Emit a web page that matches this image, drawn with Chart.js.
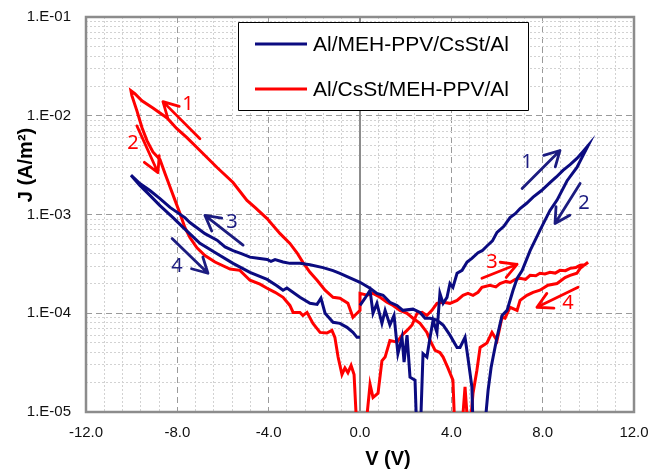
<!DOCTYPE html>
<html>
<head>
<meta charset="utf-8">
<script src="https://cdn.jsdelivr.net/npm/chart.js@4.4.0/dist/chart.umd.min.js"></script>
<style>
  html, body { margin: 0; padding: 0; background: #fff; }
  #wrap { width: 649px; height: 470px; }
</style>
</head>
<body>
<div id="wrap"><canvas id="chart" width="649" height="470"></canvas></div>
<script>
// --- data: [V (V), J (A/m2)] ---
// Al/MEH-PPV/CsSt/Al, sweeps in measuring order
const blueSweep1 = [ // 0 -> +10 V
  [0.00,1.2e-4],[0.22,1.42e-4],[0.44,1.71e-4],[0.57,1.0e-4],[0.74,1.26e-4],[0.96,7.9e-5],[1.10,1.07e-4],
  [1.31,7.6e-5],[1.49,9.5e-5],[1.66,3.9e-5],[1.84,5.7e-5],[1.93,3.2e-5],[2.06,6.0e-5],[2.19,2.25e-5],
  [2.41,2.1e-5],[2.50,5e-6],[2.63,5e-6],[2.76,3.9e-5],[2.93,3.6e-5],[3.07,5.7e-5],[3.20,8.5e-5],
  [3.37,6.4e-5],[3.50,1.59e-4],[3.64,1.26e-4],[3.81,1.45e-4],[3.94,2.0e-4],[4.07,1.83e-4],[4.25,2.54e-4],
  [4.47,2.72e-4],[4.69,3.3e-4],[4.90,3.6e-4],[5.17,4.1e-4],[5.35,4.3e-4],[5.56,4.8e-4],[5.80,5.4e-4],
  [6.00,6.6e-4],[6.30,7.6e-4],[6.57,9.3e-4],[6.80,1.02e-3],[7.01,1.15e-3],[7.30,1.3e-3],[7.58,1.5e-3],
  [7.95,1.75e-3],[8.32,2.1e-3],[8.60,2.4e-3],[8.89,2.8e-3],[9.20,3.2e-3],[9.50,3.7e-3],[9.75,4.3e-3],
  [9.99,5.0e-3]
];
const blueSweep2 = [ // +10 -> 0 V
  [9.50,3.0e-3],[9.07,2.2e-3],[8.63,1.4e-3],[8.32,1.1e-3],[7.88,6.9e-4],[7.45,4.3e-4],[7.10,2.7e-4],
  [6.88,2.25e-4],[6.70,1.7e-4],[6.44,1.07e-4],[6.22,9.5e-5],[6.00,5.7e-5],[5.83,3.6e-5],[5.74,2.8e-5],
  [5.61,1.66e-5],[5.52,9.8e-6],[5.43,5e-6],[4.97,5e-6],[4.90,1.8e-5],[4.73,3.5e-5],[4.60,5.7e-5],
  [4.38,4.5e-5],[4.25,4.5e-5],[3.94,6.0e-5],[3.64,7.6e-5],[3.37,8.5e-5],[3.07,8.9e-5],[2.85,8.9e-5],
  [2.63,1.02e-4],[2.32,1.1e-4],[1.88,1.07e-4],[1.62,1.2e-4],[1.31,1.29e-4],[1.01,1.52e-4],[0.74,1.59e-4],
  [0.44,1.79e-4],[0.00,2.06e-4]
];
const blueSweep3 = [ // 0 -> -10 V
  [-0.88,2.54e-4],[-1.18,2.7e-4],[-1.62,2.9e-4],[-2.19,3.1e-4],[-2.63,3.2e-4],[-3.07,3.2e-4],
  [-3.37,3.3e-4],[-3.72,3.5e-4],[-3.90,3.35e-4],[-4.07,3.5e-4],[-4.47,3.6e-4],[-4.82,3.7e-4],
  [-5.17,4.0e-4],[-5.56,4.3e-4],[-5.91,4.7e-4],[-6.26,5.5e-4],[-6.79,6.4e-4],[-7.45,8.3e-4],
  [-7.67,9.3e-4],[-8.32,1.18e-3],[-8.76,1.45e-3],[-9.20,1.75e-3],[-9.64,2.06e-3],[-10.03,2.5e-3]
];
const blueSweep4 = [ // -10 -> 0 V
  [-9.64,1.97e-3],[-9.20,1.56e-3],[-8.76,1.23e-3],[-8.19,9.3e-4],[-7.75,7.4e-4],[-7.01,5.1e-4],
  [-6.26,4.0e-4],[-5.56,3.2e-4],[-4.82,2.6e-4],[-4.07,2.2e-4],[-3.64,1.9e-4],[-3.37,1.71e-4],
  [-3.20,1.8e-4],[-2.63,1.45e-4],[-2.19,1.26e-4],[-1.88,1.23e-4],[-1.71,1.42e-4],[-1.53,1.0e-4],
  [-1.18,8.1e-5],[-0.88,7.9e-5],[-0.57,7.2e-5],[-0.31,6.4e-5],[-0.13,5.7e-5],[0.00,5.7e-5]
];

// Al/CsSt/MEH-PPV/Al
const redSweep3 = [ // 0 -> +10 V
  [0.15,4e-6],[0.44,1.9e-5],[0.57,1.4e-5],[0.79,1.55e-5],[0.96,3.3e-5],[1.10,3.6e-5],[1.31,5.3e-5],
  [1.62,5.1e-5],[1.84,6.0e-5],[2.06,6.7e-5],[2.28,7.6e-5],[2.50,1.0e-4],[2.72,1.02e-4],[2.93,9.5e-5],
  [3.15,1.07e-4],[3.37,1.26e-4],[3.64,1.29e-4],[3.94,1.26e-4],[4.25,1.35e-4],[4.51,1.52e-4],
  [4.73,1.59e-4],[4.95,1.52e-4],[5.17,1.63e-4],[5.34,1.83e-4],[5.69,1.92e-4],[5.95,1.85e-4],
  [6.13,2.0e-4],[6.40,2.1e-4],[6.57,2.05e-4],[6.80,2.2e-4],[7.01,2.26e-4],[7.25,2.2e-4],[7.45,2.42e-4],
  [7.70,2.4e-4],[7.88,2.54e-4],[8.10,2.5e-4],[8.32,2.6e-4],[8.55,2.55e-4],[8.76,2.72e-4],[9.00,2.7e-4],
  [9.20,2.85e-4],[9.45,2.9e-4],[9.64,3.06e-4],[9.85,3.1e-4],[9.99,3.28e-4]
];
const redSweep4 = [ // +10 -> 0 V
  [9.64,2.85e-4],[9.50,2.54e-4],[9.20,2.42e-4],[8.98,2.3e-4],[8.63,2.0e-4],[8.23,1.92e-4],[7.88,1.71e-4],
  [7.58,1.63e-4],[7.31,1.52e-4],[7.01,1.35e-4],[6.88,1.07e-4],[6.57,1.15e-4],[6.35,8.9e-5],[6.22,9.1e-5],
  [6.00,5.3e-5],[5.78,6.4e-5],[5.56,5.0e-5],[5.26,4.5e-5],[5.12,2.65e-5],[4.95,1.55e-5],[4.77,5e-6],
  [4.60,1.8e-5],[4.42,5e-6],[4.16,6e-6],[4.07,2.1e-5],[3.85,2.8e-5],[3.64,3.6e-5],[3.50,4.0e-5],
  [3.29,4.2e-5],[3.07,5.3e-5],[2.93,6.4e-5],[2.63,7.9e-5],[2.32,8.9e-5],[2.06,1.0e-4],[1.75,1.07e-4],
  [1.45,1.2e-4],[1.18,1.29e-4],[0.88,1.45e-4],[0.57,1.59e-4],[0.31,1.52e-4],[0.00,1.59e-4]
];
const redSweep1 = [ // 0 -> -10 V
  [0.00,1.07e-4],[-0.13,1.0e-4],[-0.31,9.1e-5],[-0.53,1.26e-4],[-0.88,1.42e-4],[-1.18,1.45e-4],
  [-1.53,1.71e-4],[-1.88,2.16e-4],[-2.19,2.6e-4],[-2.50,3.28e-4],[-2.76,4.1e-4],[-3.07,5.1e-4],
  [-3.50,6.4e-4],[-4.07,9.1e-4],[-4.60,1.18e-3],[-4.95,1.39e-3],[-5.56,2.11e-3],[-6.26,2.99e-3],
  [-7.01,4.45e-3],[-7.58,6.0e-3],[-8.02,7.4e-3],[-8.45,9.5e-3],[-9.07,1.2e-2],[-9.55,1.42e-2],
  [-9.86,1.67e-2],[-10.03,1.79e-2]
];
const redSweep2 = [ // -10 -> 0 V
  [-9.99,1.6e-2],[-9.77,1.12e-2],[-9.55,7.6e-3],[-9.33,5.6e-3],[-9.07,4.3e-3],[-8.76,3.6e-3],
  [-8.54,2.6e-3],[-8.32,1.9e-3],[-8.10,1.39e-3],[-7.88,1.02e-3],[-7.67,7.4e-4],[-7.45,5.85e-4],
  [-7.14,4.6e-4],[-6.79,3.84e-4],[-6.35,3.3e-4],[-5.69,2.8e-4],[-5.26,2.72e-4],[-4.82,2.16e-4],
  [-4.38,1.97e-4],[-4.07,1.79e-4],[-3.72,1.63e-4],[-3.37,1.45e-4],[-3.07,1.2e-4],[-2.93,1.02e-4],
  [-2.63,1.02e-4],[-2.50,9.5e-5],[-2.32,1.02e-4],[-2.06,7.9e-5],[-1.75,6.4e-5],[-1.45,6.3e-5],
  [-1.23,6.7e-5],[-1.10,5.7e-5],[-0.96,3.6e-5],[-0.79,2.4e-5],[-0.66,2.8e-5],[-0.53,2.5e-5],
  [-0.39,2.96e-5],[-0.26,2.4e-5],[-0.09,4e-6]
];

const seriesNames = ['Al/MEH-PPV/CsSt/Al', 'Al/CsSt/MEH-PPV/Al'];
const seriesColors = ['#0b0b80', '#ff0000'];

// sweep-direction arrows (data coordinates) with their numbers
const sweepArrows = [
  { s: 1, tail: [-7.01, 5.85e-3], tip: [-8.63, 1.39e-2], text: '1', at: [-7.53, 1.32e-2] },
  { s: 1, tail: [-9.77, 7.9e-3],  tip: [-8.85, 2.66e-3], text: '2', at: [-9.94, 5.2e-3] },
  { s: 0, tail: [-5.12, 4.9e-4],  tip: [-6.79, 9.8e-4],  text: '3', at: [-5.61, 8.3e-4] },
  { s: 0, tail: [-8.23, 5.7e-4],  tip: [-6.66, 2.54e-4], text: '4', at: [-8.02, 3.0e-4] },
  { s: 0, tail: [7.10, 1.83e-3],  tip: [8.76, 4.45e-3],  text: '1', at: [7.31, 3.36e-3] },
  { s: 0, tail: [9.64, 2.06e-3],  tip: [8.54, 8.1e-4],   text: '2', at: [9.81, 1.29e-3] },
  { s: 1, tail: [5.34, 2.26e-4],  tip: [6.88, 3.13e-4],  text: '3', at: [5.78, 3.28e-4] },
  { s: 1, tail: [9.55, 1.83e-4],  tip: [7.75, 1.15e-4],  text: '4', at: [9.11, 1.26e-4] }
];

const xTickStep = 4;
const xMinorStep = 0.8;
const yDecades = [-5, -4, -3, -2, -1];

const FONT = '"Liberation Sans", Arial, sans-serif';

const toPoints = arr => arr.map(([v, j]) => ({ x: v, y: j }));
const isDecade = v => Math.abs(Math.log10(v) - Math.round(Math.log10(v))) < 1e-9;
const isMajorX = v => Math.abs(v / xTickStep - Math.round(v / xTickStep)) < 1e-9;

function drawArrow(ctx, x1, y1, x2, y2) {
    const ang = Math.atan2(y2 - y1, x2 - x1);
    const head = 17, spread = 0.5;
    ctx.beginPath();
    ctx.moveTo(x1, y1);
    ctx.lineTo(x2, y2);
    ctx.moveTo(x2 - head * Math.cos(ang - spread), y2 - head * Math.sin(ang - spread));
    ctx.lineTo(x2, y2);
    ctx.lineTo(x2 - head * Math.cos(ang + spread), y2 - head * Math.sin(ang + spread));
    ctx.stroke();
}

const chartDecor = {
    id: 'chartDecor',
    beforeDatasetsDraw(chart) {
        const { ctx, chartArea: a, scales: { x } } = chart;
        ctx.save();
        ctx.strokeStyle = '#8c8c8c';
        // vertical axis crossing at V = 0
        ctx.lineWidth = 2;
        const x0 = x.getPixelForValue(0);
        ctx.beginPath();
        ctx.moveTo(x0, a.top);
        ctx.lineTo(x0, a.bottom);
        ctx.stroke();
        // plot frame
        ctx.lineWidth = 2.5;
        ctx.strokeRect(a.left, a.top, a.right - a.left, a.bottom - a.top);
        ctx.restore();
    },
    afterDatasetsDraw(chart) {
        const { ctx, scales: { x, y } } = chart;
        ctx.save();

        // arrows + numbers
        ctx.lineWidth = 2.8;
        ctx.lineCap = 'round';
        ctx.lineJoin = 'round';
        ctx.font = '20px "Noto Sans", "Open Sans", sans-serif';
        ctx.textAlign = 'center';
        ctx.textBaseline = 'middle';
        sweepArrows.forEach(a => {
            const col = a.s === 0 ? '#1c1c80' : '#ff0000';
            ctx.strokeStyle = col;
            ctx.fillStyle = col;
            drawArrow(ctx,
                x.getPixelForValue(a.tail[0]), y.getPixelForValue(a.tail[1]),
                x.getPixelForValue(a.tip[0]), y.getPixelForValue(a.tip[1]));
            ctx.fillText(a.text, x.getPixelForValue(a.at[0]), y.getPixelForValue(a.at[1]));
        });

        // legend box
        ctx.lineCap = 'butt';
        ctx.fillStyle = '#fff';
        ctx.fillRect(238, 22, 290, 88);
        ctx.strokeStyle = '#000';
        ctx.lineWidth = 1;
        ctx.strokeRect(238.5, 22.5, 290, 88);
        ctx.font = '21px ' + FONT;
        ctx.textAlign = 'left';
        seriesNames.forEach((name, i) => {
            const ly = 44 + i * 45;
            ctx.strokeStyle = seriesColors[i];
            ctx.lineWidth = 3;
            ctx.beginPath();
            ctx.moveTo(255, ly);
            ctx.lineTo(307, ly);
            ctx.stroke();
            ctx.fillStyle = '#000';
            ctx.fillText(name, 313, ly + 1);
        });

        // axis titles
        ctx.fillStyle = '#000';
        ctx.font = 'bold 20px ' + FONT;
        ctx.textAlign = 'center';
        ctx.fillText('V (V)', 388, 459);
        ctx.translate(26, 165);
        ctx.rotate(-Math.PI / 2);
        ctx.fillText('J (A/m²)', 0, 0);
        ctx.restore();
    }
};

new Chart(document.getElementById('chart'), {
    type: 'line',
    data: {
        datasets: [
            {
                label: seriesNames[0],
                data: toPoints([...blueSweep1, ...blueSweep2, ...blueSweep3, ...blueSweep4]),
                borderColor: seriesColors[0],
                borderWidth: 3,
                pointRadius: 0,
                tension: 0,
                fill: false
            },
            {
                label: seriesNames[1],
                data: toPoints([...redSweep3, ...redSweep4, ...redSweep1, ...redSweep2]),
                borderColor: seriesColors[1],
                borderWidth: 3,
                pointRadius: 0,
                tension: 0,
                fill: false
            }
        ]
    },
    options: {
        responsive: false,
        animation: false,
        devicePixelRatio: 1,
        layout: { padding: { top: 17, right: 15, left: 0, bottom: 0 } },
        plugins: { legend: { display: false }, tooltip: { enabled: false } },
        scales: {
            x: {
                type: 'linear',
                min: -12,
                max: 12,
                afterBuildTicks: s => {
                    const t = [];
                    const n = Math.round(24 / xMinorStep);
                    for (let k = 0; k <= n; k++) t.push({ value: Math.round((-12 + k * xMinorStep) * 10) / 10 });
                    s.ticks = t;
                },
                afterFit: s => { s.height = 58; s.paddingLeft = 0; s.paddingRight = 0; },
                ticks: {
                    autoSkip: false,
                    maxRotation: 0,
                    padding: 12,
                    color: '#111',
                    font: { family: FONT, size: 15 },
                    callback: v => isMajorX(v) ? v.toFixed(1) : ''
                },
                grid: {
                    drawTicks: false,
                    lineWidth: 1,
                    color: c => isMajorX(c.tick.value) ? '#9a9a9a' : '#d2d2d2'
                },
                border: {
                    display: false,
                    dash: c => isMajorX(c.tick.value) ? [6, 4] : [2, 2]
                }
            },
            y: {
                type: 'logarithmic',
                min: 1e-5,
                max: 1e-1,
                afterBuildTicks: s => {
                    const t = [];
                    yDecades.forEach(d => {
                        if (d === -1) { t.push({ value: 1e-1 }); return; }
                        for (let m = 1; m <= 9; m++) t.push({ value: Number(m + 'e' + d) });
                    });
                    s.ticks = t;
                },
                afterFit: s => { s.width = 86; s.paddingTop = 0; s.paddingBottom = 0; },
                ticks: {
                    autoSkip: false,
                    padding: 15,
                    color: '#111',
                    font: { family: FONT, size: 15 },
                    callback: v => isDecade(v) ? '1.E-0' + (-Math.round(Math.log10(v))) : ''
                },
                grid: {
                    drawTicks: false,
                    lineWidth: 1,
                    color: c => isDecade(c.tick.value) ? '#9a9a9a' : '#d2d2d2'
                },
                border: {
                    display: false,
                    dash: c => isDecade(c.tick.value) ? [6, 4] : [2, 2]
                }
            }
        }
    },
    plugins: [chartDecor]
});
</script>
</body>
</html>
